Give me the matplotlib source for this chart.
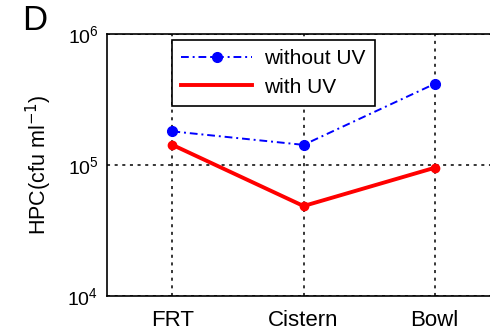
import numpy as np
import matplotlib
matplotlib.use("Agg")
import matplotlib.pyplot as plt
from matplotlib.lines import Line2D

plt.rcParams['font.family'] = ['Liberation Sans', 'DejaVu Sans']

# ---------- data ----------
sites = ["FRT", "Cistern", "Bowl"]
hpc_no_uv = [1.8e5, 1.42e5, 4.15e5]   # cfu/ml
hpc_uv = [1.42e5, 4.85e4, 9.5e4]

x = np.arange(1, len(sites) + 1)

fig = plt.figure(figsize=(4.9, 3.31), dpi=100)
ax = fig.add_axes([0.218, 0.106, 0.803, 0.792])

ax.plot(x, hpc_no_uv, color='#0000ff', linestyle=(0, (4, 2, 1, 2)), lw=1.4,
        marker='o', ms=7)
ax.plot(x, hpc_uv, color='#ff0000', linestyle='-', lw=2.8,
        marker='o', ms=6)

ax.set_yscale('log')
ax.set_ylim(1e4, 1e6)
ax.set_xlim(0.5, 3.5)
ax.set_xticks(x)
ax.set_xticklabels(sites)
ax.set_yticks([1e4, 1e5, 1e6])
ax.minorticks_off()
ax.tick_params(axis='x', direction='in', length=0, labelsize=16, pad=10)
ax.tick_params(axis='y', direction='in', length=0, labelsize=14, pad=6)
ax.grid(True, color='black', linestyle=(0, (2, 3)), lw=1.1)
for s in ax.spines.values():
    s.set_linewidth(1.2)

ax.set_ylabel('HPC(cfu ml$^{-1}$)', fontsize=15.5, labelpad=10)

handles = [
    Line2D([], [], color='#0000ff', linestyle=(0, (4, 2, 1, 2)), lw=1.4,
           marker='o', ms=7),
    Line2D([], [], color='#ff0000', linestyle='-', lw=2.8),
]
leg = ax.legend(handles, ['without UV', 'with UV'], loc='upper left',
                bbox_to_anchor=(0.165, 0.977), borderaxespad=0, fontsize=15,
                frameon=True, fancybox=False, edgecolor='black', framealpha=1,
                handlelength=3.4, borderpad=0.45, labelspacing=0.45,
                handletextpad=0.6)
leg.get_frame().set_linewidth(1.2)

fig.text(0.045, 0.91, 'D', fontsize=25)

fig.savefig('out.png', dpi=100)
